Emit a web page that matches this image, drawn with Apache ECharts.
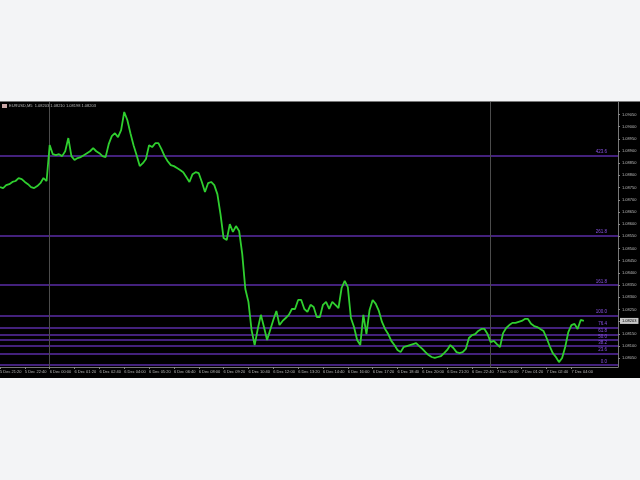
<!DOCTYPE html>
<html>
<head>
<meta charset="utf-8">
<script src="https://cdn.jsdelivr.net/npm/echarts@6/dist/echarts.min.js"></script>
<style>
html,body{margin:0;padding:0;background:#f3f4f6;}
#chart{width:640px;height:480px;}
</style>
</head>
<body>
<div id="chart"></div>
<script>
// ---- data ----
var titleText = "EURUSD,M5  1.08203 1.08210 1.08198 1.08203";
var tickLabels = ["5 Dec 21:20","5 Dec 22:40","6 Dec 00:00","6 Dec 01:20","6 Dec 02:40","6 Dec 04:00","6 Dec 05:20","6 Dec 06:40","6 Dec 08:00","6 Dec 09:20","6 Dec 10:40","6 Dec 12:00","6 Dec 13:20","6 Dec 14:40","6 Dec 16:00","6 Dec 17:20","6 Dec 18:40","6 Dec 20:00","6 Dec 21:20","6 Dec 22:40","7 Dec 00:00","7 Dec 01:20","7 Dec 02:40","7 Dec 04:00"];
var totalBars = 200;
var labelEvery = 8;
var prices = [
1.08752,1.08748,1.08760,1.08764,1.08773,1.08777,1.08789,1.08785,1.08773,1.08764,
1.08752,1.08748,1.08756,1.08768,1.08789,1.08777,1.08924,1.08887,1.08883,1.08887,
1.08879,1.08899,1.08953,1.08879,1.08863,1.08871,1.08875,1.08883,1.08891,1.08899,
1.08912,1.08899,1.08891,1.08879,1.08875,1.08928,1.08961,1.08973,1.08957,1.08986,
1.09060,1.09027,1.08973,1.08924,1.08883,1.08838,1.08850,1.08867,1.08924,1.08916,
1.08932,1.08932,1.08908,1.08879,1.08858,1.08842,1.08838,1.08830,1.08822,1.08813,
1.08793,1.08773,1.08805,1.08813,1.08809,1.08773,1.08732,1.08768,1.08773,1.08760,
1.08723,1.08641,1.08543,1.08535,1.08600,1.08568,1.08592,1.08572,1.08478,1.08334,
1.08281,1.08166,1.08104,1.08170,1.08228,1.08178,1.08125,1.08166,1.08207,1.08244,
1.08186,1.08203,1.08215,1.08228,1.08252,1.08252,1.08289,1.08289,1.08252,1.08240,
1.08269,1.08260,1.08219,1.08219,1.08269,1.08281,1.08252,1.08281,1.08269,1.08256,
1.08338,1.08367,1.08342,1.08215,1.08178,1.08125,1.08104,1.08228,1.08149,1.08248,
1.08289,1.08273,1.08244,1.08199,1.08170,1.08149,1.08121,1.08104,1.08084,1.08075,
1.08096,1.08100,1.08104,1.08108,1.08112,1.08100,1.08088,1.08075,1.08063,1.08055,
1.08051,1.08055,1.08059,1.08071,1.08084,1.08104,1.08092,1.08075,1.08071,1.08075,
1.08088,1.08133,1.08145,1.08149,1.08162,1.08170,1.08170,1.08149,1.08116,1.08121,
1.08108,1.08096,1.08153,1.08174,1.08186,1.08195,1.08195,1.08199,1.08203,1.08211,
1.08211,1.08191,1.08182,1.08178,1.08170,1.08162,1.08133,1.08100,1.08071,1.08055,
1.08034,1.08051,1.08096,1.08157,1.08186,1.08191,1.08170,1.08207,1.08203
];
var priceTicks = [1.0805,1.0810,1.0815,1.0820,1.0825,1.0830,1.0835,1.0840,1.0845,1.0850,1.0855,1.0860,1.0865,1.0870,1.0875,1.0880,1.0885,1.0890,1.0895,1.0900,1.0905];
var fibLabels = ["0.0","23.6","38.2","50.0","61.8","76.4","100.0","161.8","261.8","423.6"];
var fibPrices = [1.08022,1.08070,1.08100,1.08124,1.08148,1.08177,1.08225,1.08350,1.08553,1.08882];
var separators = [16, 158];
var lastPrice = 1.08203;
var yMin = 1.08014, yMax = 1.09101;

// ---- chart ----
var categories = [];
for (var i = 0; i < totalBars; i++) categories.push(String(i));

var marks = [];
fibPrices.forEach(function (p, k) {
  marks.push({
    yAxis: p,
    lineStyle: {color: '#5a2ca6', width: 1.5, type: 'solid', opacity: 1},
    label: {
      show: true,
      position: 'insideEndTop',
      formatter: fibLabels[k],
      color: '#8a52e6',
      fontSize: 4.5,
      fontFamily: 'Liberation Sans',
      distance: [11, 1]
    }
  });
});
separators.forEach(function (s) {
  marks.push({
    xAxis: String(s),
    lineStyle: {color: '#4c4c4c', width: 1, type: 'solid', opacity: 1},
    label: {show: false}
  });
});
marks.push({
  yAxis: lastPrice,
  lineStyle: {color: 'rgba(0,0,0,0)', width: 0, opacity: 1},
  label: {
    show: true,
    position: 'end',
    distance: 2,
    formatter: lastPrice.toFixed(5),
    color: '#000',
    backgroundColor: '#c8c8c8',
    fontSize: 4,
    fontFamily: 'Liberation Sans',
    padding: [1, 2]
  }
});

var chart = echarts.init(document.getElementById('chart'), null, {renderer: 'canvas'});
chart.setOption({
  backgroundColor: '#f3f4f6',
  animation: false,
  graphic: [
    {type: 'rect', z: -10, shape: {x: 0, y: 101, width: 640, height: 277}, style: {fill: '#000000'}},
    {type: 'rect', z: -9, shape: {x: 0, y: 101, width: 640, height: 1}, style: {fill: '#777777'}},
    {type: 'rect', z: 100, shape: {x: 2, y: 104, width: 5, height: 4}, style: {fill: '#c9a7a7'}},
    {type: 'text', z: 100, left: 9, top: 103.5, style: {text: titleText, fill: '#bbbbbb', fontSize: 4, fontFamily: 'Liberation Sans'}}
  ],
  grid: {left: 0, right: 22, top: 102, bottom: 113, containLabel: false, outerBoundsMode: 'none'},
  xAxis: {
    type: 'category',
    data: categories,
    boundaryGap: false,
    axisLine: {show: true, lineStyle: {color: '#777', width: 1}},
    axisTick: {show: true, interval: labelEvery - 1, length: 2, lineStyle: {color: '#888'}},
    axisLabel: {
      show: true,
      interval: labelEvery - 1,
      showMinLabel: true,
      showMaxLabel: false,
      color: '#bbbbbb',
      fontSize: 4,
      fontFamily: 'Liberation Sans',
      margin: 3,
      align: 'left',
      formatter: function (v, idx) {
        var k = idx / labelEvery;
        return tickLabels[k] !== undefined ? tickLabels[k] : '';
      }
    },
    splitLine: {show: false}
  },
  yAxis: {
    type: 'value',
    position: 'right',
    min: yMin,
    max: yMax,
    axisLine: {show: true, lineStyle: {color: '#777', width: 1}},
    axisTick: {show: true, length: 2, customValues: priceTicks, lineStyle: {color: '#888'}},
    axisLabel: {
      show: true,
      customValues: priceTicks,
      color: '#bbbbbb',
      fontSize: 4,
      fontFamily: 'Liberation Sans',
      margin: 4,
      formatter: function (v) { return v.toFixed(5); }
    },
    splitLine: {show: false}
  },
  series: [
    {
      type: 'line',
      name: 'price',
      data: prices,
      showSymbol: false,
      symbol: 'none',
      lineStyle: {color: '#2fcf2f', width: 1.8},
      z: 5,
      markLine: {
        silent: true,
        symbol: ['none', 'none'],
        animation: false,
        precision: 5,
        data: marks
      }
    }
  ]
});
</script>
</body>
</html>
